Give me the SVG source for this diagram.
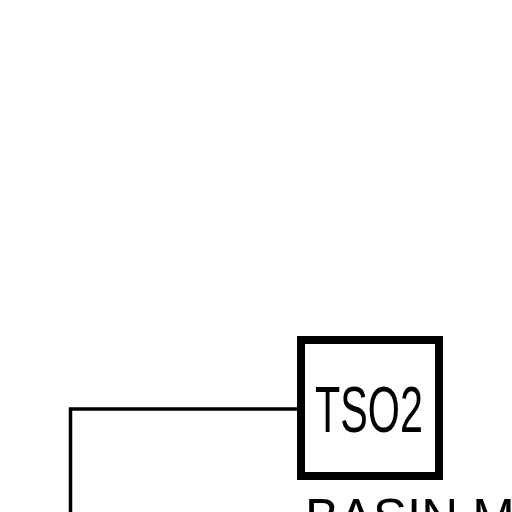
<svg xmlns="http://www.w3.org/2000/svg" width="512" height="512" viewBox="0 0 512 512">
<style>
.conn{fill:none;stroke:#000;stroke-width:3.5}
.box{fill:#fff;stroke:#000;stroke-width:8}
.lbl{font-family:"Liberation Sans",Arial,sans-serif;fill:#000}
</style>
<rect width="512" height="512" fill="#fff"/>
<g id="connectors">
<path class="conn" d="M301 409 H70.5 V512"/>
</g>
<g id="TSO2">
<rect class="box" x="301" y="340" width="138" height="136"/>
<text class="lbl" x="315" y="432" font-size="65" textLength="108" lengthAdjust="spacingAndGlyphs">TSO2</text>
</g>
<text class="lbl" x="305" y="535" font-size="51">BASIN M</text>
</svg>
